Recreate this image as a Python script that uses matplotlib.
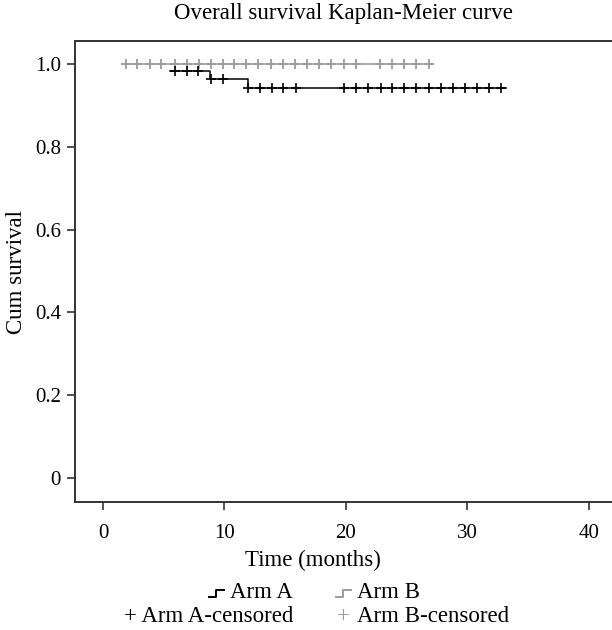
import numpy as np
import matplotlib.pyplot as plt
from matplotlib.lines import Line2D

# Arm A: step curve (time, cumulative survival) and censored times
arm_a_times = [5.5, 8.8, 11.9, 33.2]
arm_a_surv = [0.984, 0.964, 0.943, 0.943]
arm_a_cens_t = [5.9, 6.9, 7.8, 8.9, 9.9, 11.9, 12.9, 13.9, 14.8, 15.9,
                19.8, 20.8, 21.8, 22.9, 23.8, 24.8, 25.8, 26.8, 27.8,
                28.8, 29.8, 30.8, 31.8, 32.8]
arm_a_cens_s = [0.984, 0.984, 0.984, 0.964, 0.964] + [0.943] * 19

# Arm B: no events
arm_b_times = [1.9, 27.2]
arm_b_surv = [1.0, 1.0]
arm_b_cens_t = [1.9, 2.8, 3.85, 4.8, 5.9, 6.9, 7.9, 8.9, 9.9, 10.8, 11.8,
                12.8, 13.8, 14.8, 15.8, 16.8, 17.8, 18.8, 19.8, 20.8,
                22.8, 23.8, 24.8, 25.8, 26.8]
arm_b_cens_s = [1.0] * len(arm_b_cens_t)

x_ticks = [0, 10, 20, 30, 40]
y_ticks = [0, 0.2, 0.4, 0.6, 0.8, 1.0]
y_labels = ["0", "0.2", "0.4", "0.6", "0.8", "1.0"]

plt.rcParams['font.family'] = ['Liberation Serif', 'DejaVu Serif']
FS = 16.5
TFS = 15
W, H = 612, 630
GREY = '#9a9a9a'

fig = plt.figure(figsize=(W / 100, H / 100), dpi=100)

def px(x, y):
    return x / W, 1 - y / H

# axes: left spine at 75px, top 41px, bottom 502px; right spine off canvas
xmin, xmax = -2.3, 43.0
ppm = 12.15
left = 75 / W
width = (xmax - xmin) * ppm / W
ax = fig.add_axes([left, 1 - 502 / H, width, (502 - 41) / H])
ax.set_xlim(xmin, xmax)
ax.set_ylim(-0.058, 1.056)

ax.step(arm_b_times, arm_b_surv, where='post', color=GREY, lw=1.1)
ax.plot(arm_b_cens_t, arm_b_cens_s, ls='none', marker='+', ms=6.5,
        mew=1.3, color=GREY)
ax.step(arm_a_times, arm_a_surv, where='post', color='black', lw=1.1)
ax.plot(arm_a_cens_t, arm_a_cens_s, ls='none', marker='+', ms=6.5,
        mew=1.2, color='black')

ax.set_xticks(x_ticks)
ax.set_yticks(y_ticks)
ax.set_yticklabels(y_labels)
ax.tick_params(axis='both', direction='out', length=6, width=1.1,
               labelsize=TFS, color='#222222')
ax.tick_params(axis='x', pad=10)
ax.tick_params(axis='y', pad=4)
for s in ax.spines.values():
    s.set_linewidth(1.4)
    s.set_color('#333333')
ax.spines['right'].set_visible(False)

ax.set_ylabel('Cum survival', fontsize=FS, labelpad=6)

fig.text(*px(343, 14), 'Overall survival Kaplan-Meier curve',
         ha='center', va='center', fontsize=FS)
fig.text(*px(313, 560), 'Time (months)', ha='center', va='center',
         fontsize=FS)

# legend
r1, r2 = 593, 617
t_a = fig.text(*px(293, r1), 'Arm A', ha='right', va='center', fontsize=FS)
fig.text(*px(357, r1), 'Arm B', ha='left', va='center', fontsize=FS)
fig.text(*px(293, r2), '+ Arm A-censored', ha='right', va='center',
         fontsize=FS)
fig.text(*px(350, r2), '+', ha='right', va='center', fontsize=FS,
         color=GREY)
fig.text(*px(357, r2), 'Arm B-censored', ha='left', va='center',
         fontsize=FS)

def step_icon(x1, y0, color):
    # x1 = right end of the icon in pixels
    x0 = x1 - 15
    xs = [x0, x0 + 7, x0 + 7, x0 + 15]
    ys = [y0 + 3.5, y0 + 3.5, y0 - 3.5, y0 - 3.5]
    fx = [x / W for x in xs]
    fy = [1 - y / H for y in ys]
    fig.add_artist(Line2D(fx, fy, color=color, lw=1.4,
                          transform=fig.transFigure))

fig.canvas.draw()
bb = t_a.get_window_extent()
step_icon(bb.x0 - 6, r1, 'black')
step_icon(351, r1, GREY)

fig.savefig('out.png', dpi=100)
